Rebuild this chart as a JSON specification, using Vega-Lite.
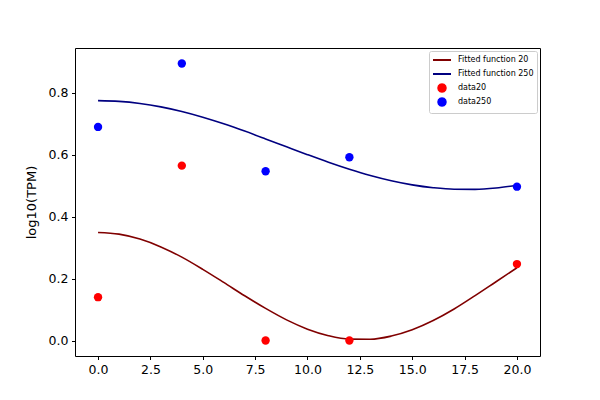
{
  "$schema": "https://vega.github.io/schema/vega-lite/v6.json",
  "autosize": {"type": "none"},
  "padding": {"left": 75, "top": 48, "right": 60, "bottom": 44},
  "width": 465,
  "height": 308,
  "background": "white",
  "config": {
    "view": {"stroke": "black", "strokeWidth": 1},
    "font": "DejaVu Sans",
    "axis": {
      "grid": false,
      "domain": false,
      "tickColor": "black",
      "tickSize": 3.5,
      "labelPadding": 3.5,
      "labelColor": "black",
      "labelFontSize": 12.5,
      "labelFont": "DejaVu Sans",
      "titleFont": "DejaVu Sans",
      "titleFontSize": 13,
      "titleFontWeight": "normal",
      "titleColor": "black"
    }
  },
  "data": {
    "values": [
      {"x": 0, "y": 0.349, "series": "Fitted function 20"},
      {"x": 1, "y": 0.3436, "series": "Fitted function 20"},
      {"x": 2, "y": 0.3277, "series": "Fitted function 20"},
      {"x": 3, "y": 0.3024, "series": "Fitted function 20"},
      {"x": 4, "y": 0.2693, "series": "Fitted function 20"},
      {"x": 5, "y": 0.2299, "series": "Fitted function 20"},
      {"x": 6, "y": 0.1877, "series": "Fitted function 20"},
      {"x": 7, "y": 0.1445, "series": "Fitted function 20"},
      {"x": 8, "y": 0.1037, "series": "Fitted function 20"},
      {"x": 9, "y": 0.0667, "series": "Fitted function 20"},
      {"x": 10, "y": 0.0368, "series": "Fitted function 20"},
      {"x": 11, "y": 0.0157, "series": "Fitted function 20"},
      {"x": 12, "y": 0.0046, "series": "Fitted function 20"},
      {"x": 13, "y": 0.0042, "series": "Fitted function 20"},
      {"x": 14, "y": 0.0144, "series": "Fitted function 20"},
      {"x": 15, "y": 0.0347, "series": "Fitted function 20"},
      {"x": 16, "y": 0.0645, "series": "Fitted function 20"},
      {"x": 17, "y": 0.1018, "series": "Fitted function 20"},
      {"x": 18, "y": 0.1450, "series": "Fitted function 20"},
      {"x": 19, "y": 0.1900, "series": "Fitted function 20"},
      {"x": 20, "y": 0.2350, "series": "Fitted function 20"},
      {"x": 0, "y": 0.775, "series": "Fitted function 250"},
      {"x": 1, "y": 0.7727, "series": "Fitted function 250"},
      {"x": 2, "y": 0.7659, "series": "Fitted function 250"},
      {"x": 3, "y": 0.7548, "series": "Fitted function 250"},
      {"x": 4, "y": 0.7398, "series": "Fitted function 250"},
      {"x": 5, "y": 0.7213, "series": "Fitted function 250"},
      {"x": 6, "y": 0.7000, "series": "Fitted function 250"},
      {"x": 7, "y": 0.6765, "series": "Fitted function 250"},
      {"x": 8, "y": 0.6514, "series": "Fitted function 250"},
      {"x": 9, "y": 0.6258, "series": "Fitted function 250"},
      {"x": 10, "y": 0.6004, "series": "Fitted function 250"},
      {"x": 11, "y": 0.5759, "series": "Fitted function 250"},
      {"x": 12, "y": 0.5533, "series": "Fitted function 250"},
      {"x": 13, "y": 0.5331, "series": "Fitted function 250"},
      {"x": 14, "y": 0.5162, "series": "Fitted function 250"},
      {"x": 15, "y": 0.5029, "series": "Fitted function 250"},
      {"x": 16, "y": 0.4936, "series": "Fitted function 250"},
      {"x": 17, "y": 0.4886, "series": "Fitted function 250"},
      {"x": 18, "y": 0.4884, "series": "Fitted function 250"},
      {"x": 19, "y": 0.4928, "series": "Fitted function 250"},
      {"x": 20, "y": 0.5018, "series": "Fitted function 250"},
      {"x": 0, "y": 0.14, "series": "data20"},
      {"x": 4, "y": 0.565, "series": "data20"},
      {"x": 8, "y": 0.0, "series": "data20"},
      {"x": 12, "y": 0.0, "series": "data20"},
      {"x": 20, "y": 0.247, "series": "data20"},
      {"x": 0, "y": 0.69, "series": "data250"},
      {"x": 4, "y": 0.895, "series": "data250"},
      {"x": 8, "y": 0.547, "series": "data250"},
      {"x": 12, "y": 0.592, "series": "data250"},
      {"x": 20, "y": 0.497, "series": "data250"}
    ]
  },
  "encoding": {
    "x": {
      "field": "x",
      "type": "quantitative",
      "scale": {"domain": [-1.1, 21.1], "nice": false, "zero": false},
      "axis": {"values": [0, 2.5, 5, 7.5, 10, 12.5, 15, 17.5, 20], "format": ".1f", "title": null}
    },
    "y": {
      "field": "y",
      "type": "quantitative",
      "scale": {"domain": [-0.05, 0.945], "nice": false, "zero": false},
      "axis": {"values": [0, 0.2, 0.4, 0.6, 0.8], "format": ".1f", "title": "log10(TPM)", "titlePadding": 10}
    },
    "color": {
      "field": "series",
      "type": "nominal",
      "scale": {
        "domain": ["Fitted function 20", "Fitted function 250", "data20", "data250"],
        "range": ["#800000", "#000080", "#ff0000", "#0000ff"]
      },
      "legend": {
        "title": null,
        "orient": "top-right",
        "offset": 3,
        "padding": 3,
        "rowPadding": -2,
        "gridAlign": "all",
        "strokeColor": "#cccccc",
        "fillColor": "white",
        "cornerRadius": 2,
        "labelFontSize": 8,
        "labelFont": "DejaVu Sans",
        "labelColor": "black",
        "labelOffset": 14,
        "symbolSize": 100,
        "encode": {
          "symbols": {
            "update": {
              "shape": {"signal": "indexof(datum.value, 'data') === 0 ? 'M1.55,0L1.45,0.375L1.175,0.65L0.8,0.75L0.425,0.65L0.15,0.375L0.05,0L0.15,-0.375L0.425,-0.65L0.8,-0.75L1.175,-0.65L1.45,-0.375Z' : 'M-1,0H2.6'"},
              "fill": {"signal": "indexof(datum.value, 'data') === 0 ? scale('color', datum.value) : 'transparent'"},
              "stroke": {"signal": "indexof(datum.value, 'data') === 0 ? 'transparent' : scale('color', datum.value)"},
              "strokeWidth": {"value": 2},
              "opacity": {"value": 1}
            }
          }
        }
      }
    }
  },
  "layer": [
    {
      "transform": [{"filter": "indexof(datum.series, 'Fitted') === 0"}],
      "mark": {"type": "line", "interpolate": "monotone", "strokeWidth": 1.6}
    },
    {
      "transform": [{"filter": "indexof(datum.series, 'data') === 0"}],
      "mark": {"type": "point", "filled": true, "shape": "circle", "size": 70, "opacity": 1}
    }
  ]
}
